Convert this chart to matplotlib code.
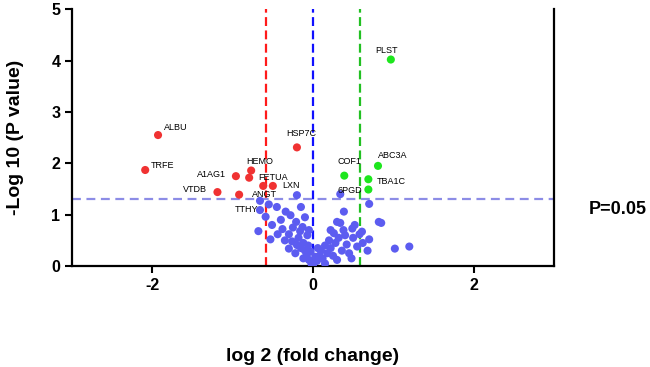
import matplotlib
matplotlib.use('Agg')
import matplotlib.pyplot as plt

plt.rcParams['font.family'] = ['Liberation Sans', 'DejaVu Sans']
plt.rcParams['axes.unicode_minus'] = False

# down-regulated (red)
red_x = [-1.93, -2.09, -1.19, -0.96, -0.77, -0.795, -0.92, -0.62, -0.50, -0.20]
red_y = [2.55, 1.87, 1.44, 1.75, 1.86, 1.72, 1.39, 1.56, 1.56, 2.31]

# up-regulated (green)
green_x = [0.97, 0.81, 0.39, 0.69, 0.69]
green_y = [4.02, 1.95, 1.76, 1.69, 1.49]

# not significant (blue)
blue_x = [-0.66, -0.66, -0.59, -0.51, -0.68, -0.53, -0.44, -0.30, -0.30, -0.20,
          -0.34, -0.28, -0.21, -0.15, -0.13, -0.07, -0.03, 0.03, -0.20, -0.45,
          -0.40, -0.25, -0.18, -0.12, -0.10, -0.08, -0.05, -0.02, 0.00, -0.15,
          -0.22, -0.12, -0.06, -0.35, -0.55, -0.10, -0.16, -0.26, -0.38, -0.05,
          0.385, 0.30, 0.34, 0.70, 0.82, 0.61, 0.70, 0.49, 0.26, 1.02,
          1.20, 0.85, 0.34, 0.05, 0.08, 0.10, 0.12, 0.15, 0.18, 0.20,
          0.22, 0.25, 0.28, 0.32, 0.36, 0.40, 0.42, 0.45, 0.50, 0.55,
          0.58, 0.48, 0.30, 0.15, 0.06, 0.38, 0.52, 0.62, 0.68, 0.22]
blue_y = [1.27, 1.09, 0.96, 0.80, 0.68, 0.52, 0.62, 0.62, 0.34, 0.41,
          1.06, 0.99, 0.86, 1.15, 0.76, 0.60, 0.28, 0.18, 1.38, 1.15,
          0.90, 0.75, 0.55, 0.45, 0.30, 0.20, 0.12, 0.05, 0.02, 0.35,
          0.25, 0.15, 0.40, 0.50, 1.20, 0.95, 0.68, 0.48, 0.72, 0.70,
          1.06, 0.86, 0.84, 1.21, 0.86, 0.67, 0.52, 0.73, 0.64, 0.34,
          0.38, 0.84, 1.40, 0.10, 0.20, 0.30, 0.15, 0.40, 0.25, 0.50,
          0.35, 0.20, 0.45, 0.55, 0.30, 0.60, 0.42, 0.25, 0.55, 0.38,
          0.62, 0.15, 0.12, 0.05, 0.35, 0.70, 0.80, 0.45, 0.30, 0.70]

labels = ['ALBU', 'TRFE', 'VTDB', 'A1AG1', 'HEMO', 'FETUA', 'ANGT', 'TTHY', 'LXN',
          'HSP7C', 'COF1', 'ABC3A', 'TBA1C', '6PGD', 'PLST']
label_x = [-1.85, -2.02, -1.32, -1.08, -0.83, -0.68, -0.76, -0.98, -0.38,
           -0.33, 0.31, 0.81, 0.80, 0.31, 0.77]
label_y = [2.70, 1.95, 1.50, 1.79, 2.03, 1.73, 1.40, 1.11, 1.56,
           2.58, 2.04, 2.16, 1.64, 1.47, 4.19]
label_ha = ['left', 'left', 'right', 'right', 'left', 'left', 'left', 'left', 'left',
            'left', 'left', 'left', 'left', 'left', 'left']

fig = plt.figure(figsize=(6.5, 3.67), dpi=100)
ax = fig.add_axes([0.111, 0.275, 0.741, 0.700])

ax.axvline(-0.585, color='#ff1a1a', linestyle=(0, (4, 2)), lw=1.6, zorder=1)
ax.axvline(0, color='#1010ff', linestyle=(0, (4, 2)), lw=1.6, zorder=1)
ax.axvline(0.585, color='#22c022', linestyle=(0, (4, 2)), lw=1.6, zorder=1)
ax.axhline(1.301, color='#8c8ce6', linestyle=(0, (4, 2.5)), lw=1.6, zorder=1)

ax.scatter(blue_x, blue_y, s=34, color='#5c5cf0', edgecolors='none', zorder=3)
ax.scatter(red_x, red_y, s=34, color='#f03232', edgecolors='none', zorder=3)
ax.scatter(green_x, green_y, s=34, color='#1ee61e', edgecolors='none', zorder=3)

for t, x, y, ha in zip(labels, label_x, label_y, label_ha):
    ax.text(x, y, t, fontsize=6.5, ha=ha, va='center', zorder=4)

ax.set_xlim(-3, 3)
ax.set_ylim(0, 5)
ax.set_xticks([-2, 0, 2])
ax.set_yticks([0, 1, 2, 3, 4, 5])
ax.tick_params(labelsize=11.5, width=1.5, length=5)
for lab in ax.get_xticklabels() + ax.get_yticklabels():
    lab.set_fontweight('bold')

ax.spines['top'].set_visible(False)
for s in ['left', 'bottom', 'right']:
    ax.spines[s].set_linewidth(1.6)

ax.set_xlabel('log 2 (fold change)', fontsize=14, fontweight='bold', labelpad=40)
ax.set_ylabel('-Log 10 (P value)', fontsize=14, fontweight='bold', labelpad=20)
ax.text(1.072, 1.301 - 0.2, 'P=0.05', transform=ax.get_yaxis_transform(),
        fontsize=13, fontweight='bold', va='center', ha='left')

fig.savefig('out.png', dpi=100)
